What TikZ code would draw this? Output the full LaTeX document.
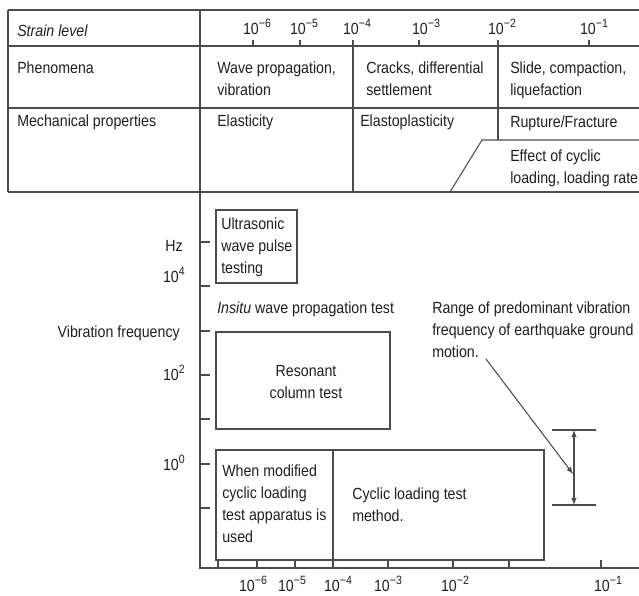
\documentclass[tikz,border=0pt]{standalone}
\usepackage{fontspec}
\setmainfont{Liberation Sans}[FakeStretch=0.88]
\usepackage{tikz}

\newcommand{\tenpow}[1]{10\raisebox{0.42em}{\fontsize{9}{9}\selectfont #1}}

\tikzset{
	frame/.style={draw=black!70, line width=0.8pt},
	lbl/.style={anchor=north west, inner sep=0pt, align=left, text=black!88,
		font=\fontsize{12.1}{16.5}\selectfont},
	axlbl/.style={inner sep=0pt, text=black!88, font=\fontsize{12.1}{16.5}\selectfont},
}

\begin{document}
\begin{tikzpicture}[x=0.75pt, y=-0.75pt]
		\useasboundingbox (0,0) rectangle (639,596);
		
		\coordinate (TL) at (8, 10);
		\coordinate (TR) at (639, 10);
		\coordinate (O) at (200, 568);
		\coordinate (XE) at (639, 568);
		\coordinate (E4) at (353, 40);
		\coordinate (E4b) at (353, 192);
		\coordinate (E2) at (498, 40);
		\coordinate (E2b) at (498, 140);
		\coordinate (EF) at (482, 140);
		\coordinate (EFb) at (450, 192);
		\coordinate (EFr) at (639, 140);
		\coordinate (motion) at (486, 359);
		\coordinate (barmid) at (573, 474);
		\coordinate (bartop) at (574, 430);
		\coordinate (barbot) at (574, 505);
		
		% table
		\foreach \y in {10, 46, 108, 192} {
			\draw[frame] (8,\y) -- (639,\y);
		}
		\draw[frame] (TL) -- (8,192);
		\draw[frame] (200,10) -- (O) -- (XE);
		\draw[frame] (E4) -- (E4b);
		\draw[frame] (E2) -- (E2b);
		\draw[frame] (EFr) -- (EF) -- (EFb);
		
		\foreach \x in {253, 300, 419, 589} {
			\draw[frame] (\x,46) -- (\x,40);
		}
		\foreach \x/\p in {257/−6, 304/−5, 357/−4, 426/−3, 502/−2, 594/−1} {
			\node[axlbl, anchor=base] at (\x,34) {\tenpow{\p}};
		}
		
		\node[lbl] (strain) at (17,25) {\textit{Strain level}};
		\node[lbl] (phen) at (17,62) {Phenomena};
		\node[lbl] (mech) at (17,115) {Mechanical properties};
		\node[lbl] (wave) at (217,62) {Wave propagation,\\vibration};
		\node[lbl] (cracks) at (366,62) {Cracks, differential\\settlement};
		\node[lbl] (slide) at (510,62) {Slide, compaction,\\liquefaction};
		\node[lbl] (elast) at (217,115) {Elasticity};
		\node[lbl] (elastopl) at (360,115) {Elastoplasticity};
		\node[lbl] (rupture) at (510,116) {Rupture/Fracture};
		\node[lbl] (effect) at (510,150) {Effect of cyclic\\loading, loading rate};
		
		% frequency axis
		\foreach \y in {242, 286, 331, 375, 419, 464, 508} {
			\draw[frame] (200,\y) -- (210,\y);
		}
		\foreach \x in {218, 257, 295, 333, 388, 453, 509, 601} {
			\draw[frame] (\x,568) -- (\x,560);
		}
		\foreach \x/\p in {253/−6, 292/−5, 338/−4, 388/−3, 455/−2, 608/−1} {
			\node[axlbl, anchor=base] at (\x,591) {\tenpow{\p}};
		}
		
		\node[axlbl, anchor=base east] (hz) at (183,251) {Hz};
		\node[axlbl, anchor=base east] (f4) at (185,282) {\tenpow{4}};
		\node[axlbl, anchor=base east] (vib) at (180,337) {Vibration frequency};
		\node[axlbl, anchor=base east] (f2) at (185,380) {\tenpow{2}};
		\node[axlbl, anchor=base east] (f0) at (185,470) {\tenpow{0}};
		
		% test boxes
		\draw[frame] (216,210) rectangle (297,283);
		\draw[frame] (216,332) rectangle (390,429);
		\draw[frame] (216,450) rectangle (544,560);
		\draw[frame] (333,450) -- (333,560);
		
		\node[lbl] (ultra) at (221,218) {Ultrasonic\\wave pulse\\testing};
		\node[lbl] (insitu) at (217,302) {\textit{Insitu} wave propagation test};
		\node[lbl, anchor=north, align=center] (resonant) at (306,365) {Resonant\\column test};
		\node[lbl] (modified) at (222,465) {When modified\\cyclic loading\\test apparatus is\\used};
		\node[lbl] (cyclic) at (352,488) {Cyclic loading test\\method.};
		\node[lbl] (range) at (432,302) {Range of predominant vibration\\frequency of earthquake ground\\motion.};
		
		% earthquake range
		\draw[frame] (552,430) -- (596,430);
		\draw[frame] (552,505) -- (596,505);
		\draw[frame, latex-latex] (bartop) -- (barbot);
		\draw[frame, -latex] (motion) -- (barmid);
	
	\end{tikzpicture}
\end{document}
